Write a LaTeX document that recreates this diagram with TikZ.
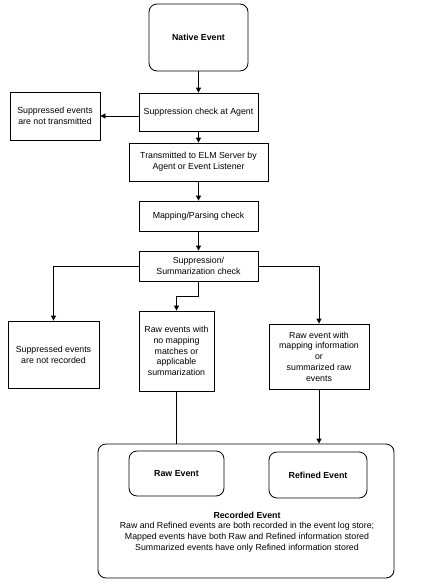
\documentclass[tikz,border=0pt]{standalone}
\usepackage{fontspec}
\setmainfont{Liberation Sans}
\usetikzlibrary{arrows.meta}
\begin{document}
\begin{tikzpicture}[x=1pt,y=-1pt,
  every node/.style={font=\fontsize{8.8}{10.7}\selectfont, align=center, inner sep=0pt},
  box/.style={draw, line width=0.8pt, rectangle},
  rbox/.style={draw, line width=0.8pt, rectangle, rounded corners=8pt},
  conn/.style={line width=0.8pt},
  arr/.style={line width=0.8pt, -{Triangle[length=5pt,width=5pt]}}]
\useasboundingbox (0,0) rectangle (423,584);
\node[rbox, minimum width=99pt, minimum height=67pt, font=\fontsize{8.8}{10.7}\selectfont\bfseries] (native) at (198.5,37.5) {Native Event};
\node[box, minimum width=119pt, minimum height=38pt] (supag) at (198.5,112) {Suppression check at Agent};
\node[box, minimum width=90pt, minimum height=48pt] (notx) at (55,116) {Suppressed events\\are not transmitted};
\node[box, minimum width=139pt, minimum height=38pt] (trans) at (198.5,162) {Transmitted to ELM Server by\\Agent or Event Listener};
\node[box, minimum width=119pt, minimum height=30pt] (map) at (198.5,216) {Mapping/Parsing check};
\node[box, minimum width=119pt, minimum height=30pt] (sumchk) at (198.5,266) {Suppression/\\Summarization check};
\node[box, minimum width=91pt, minimum height=67pt] (notrec) at (53.5,354.5) {Suppressed events\\are not recorded};
\node[box, minimum width=75pt, minimum height=80pt] (rawev) at (176.5,351) {Raw events with\\no mapping\\matches or\\applicable\\summarization};
\node[box, minimum width=100pt, minimum height=65pt] (mapinfo) at (319,356.5) {Raw event with\\mapping information\\or\\summarized raw\\events};
\node[rbox, minimum width=296pt, minimum height=134pt] (recorded) at (246,511) {};
\node[rbox, minimum width=95pt, minimum height=45pt, font=\fontsize{8.8}{10.7}\selectfont\bfseries] (raw) at (176.5,473.5) {Raw Event};
\node[rbox, minimum width=98pt, minimum height=46pt, font=\fontsize{8.8}{10.7}\selectfont\bfseries] (refined) at (318,475) {Refined Event};
\node (rectext) at (247,532) {\textbf{Recorded Event}\\Raw and Refined events are both recorded in the event log store;\\Mapped events have both Raw and Refined information stored\\Summarized events have only Refined information stored};

\draw[arr] (native) -- (supag);
\draw[arr] (supag.west |- notx.east) -- (notx.east);
\draw[arr] (supag) -- (trans);
\draw[arr] (trans) -- (map);
\draw[arr] (map) -- (sumchk);
\draw[arr] (sumchk.west) -| (notrec.north);
\draw[arr] (sumchk.south) -- ++(0,15) -| (rawev.north);
\draw[arr] (sumchk.east) -| (mapinfo.north);
\draw[conn] (rawev.south) -- (rawev.south |- recorded.north);
\draw[arr] (mapinfo.south) -- (mapinfo.south |- recorded.north);
\end{tikzpicture}
\end{document}
